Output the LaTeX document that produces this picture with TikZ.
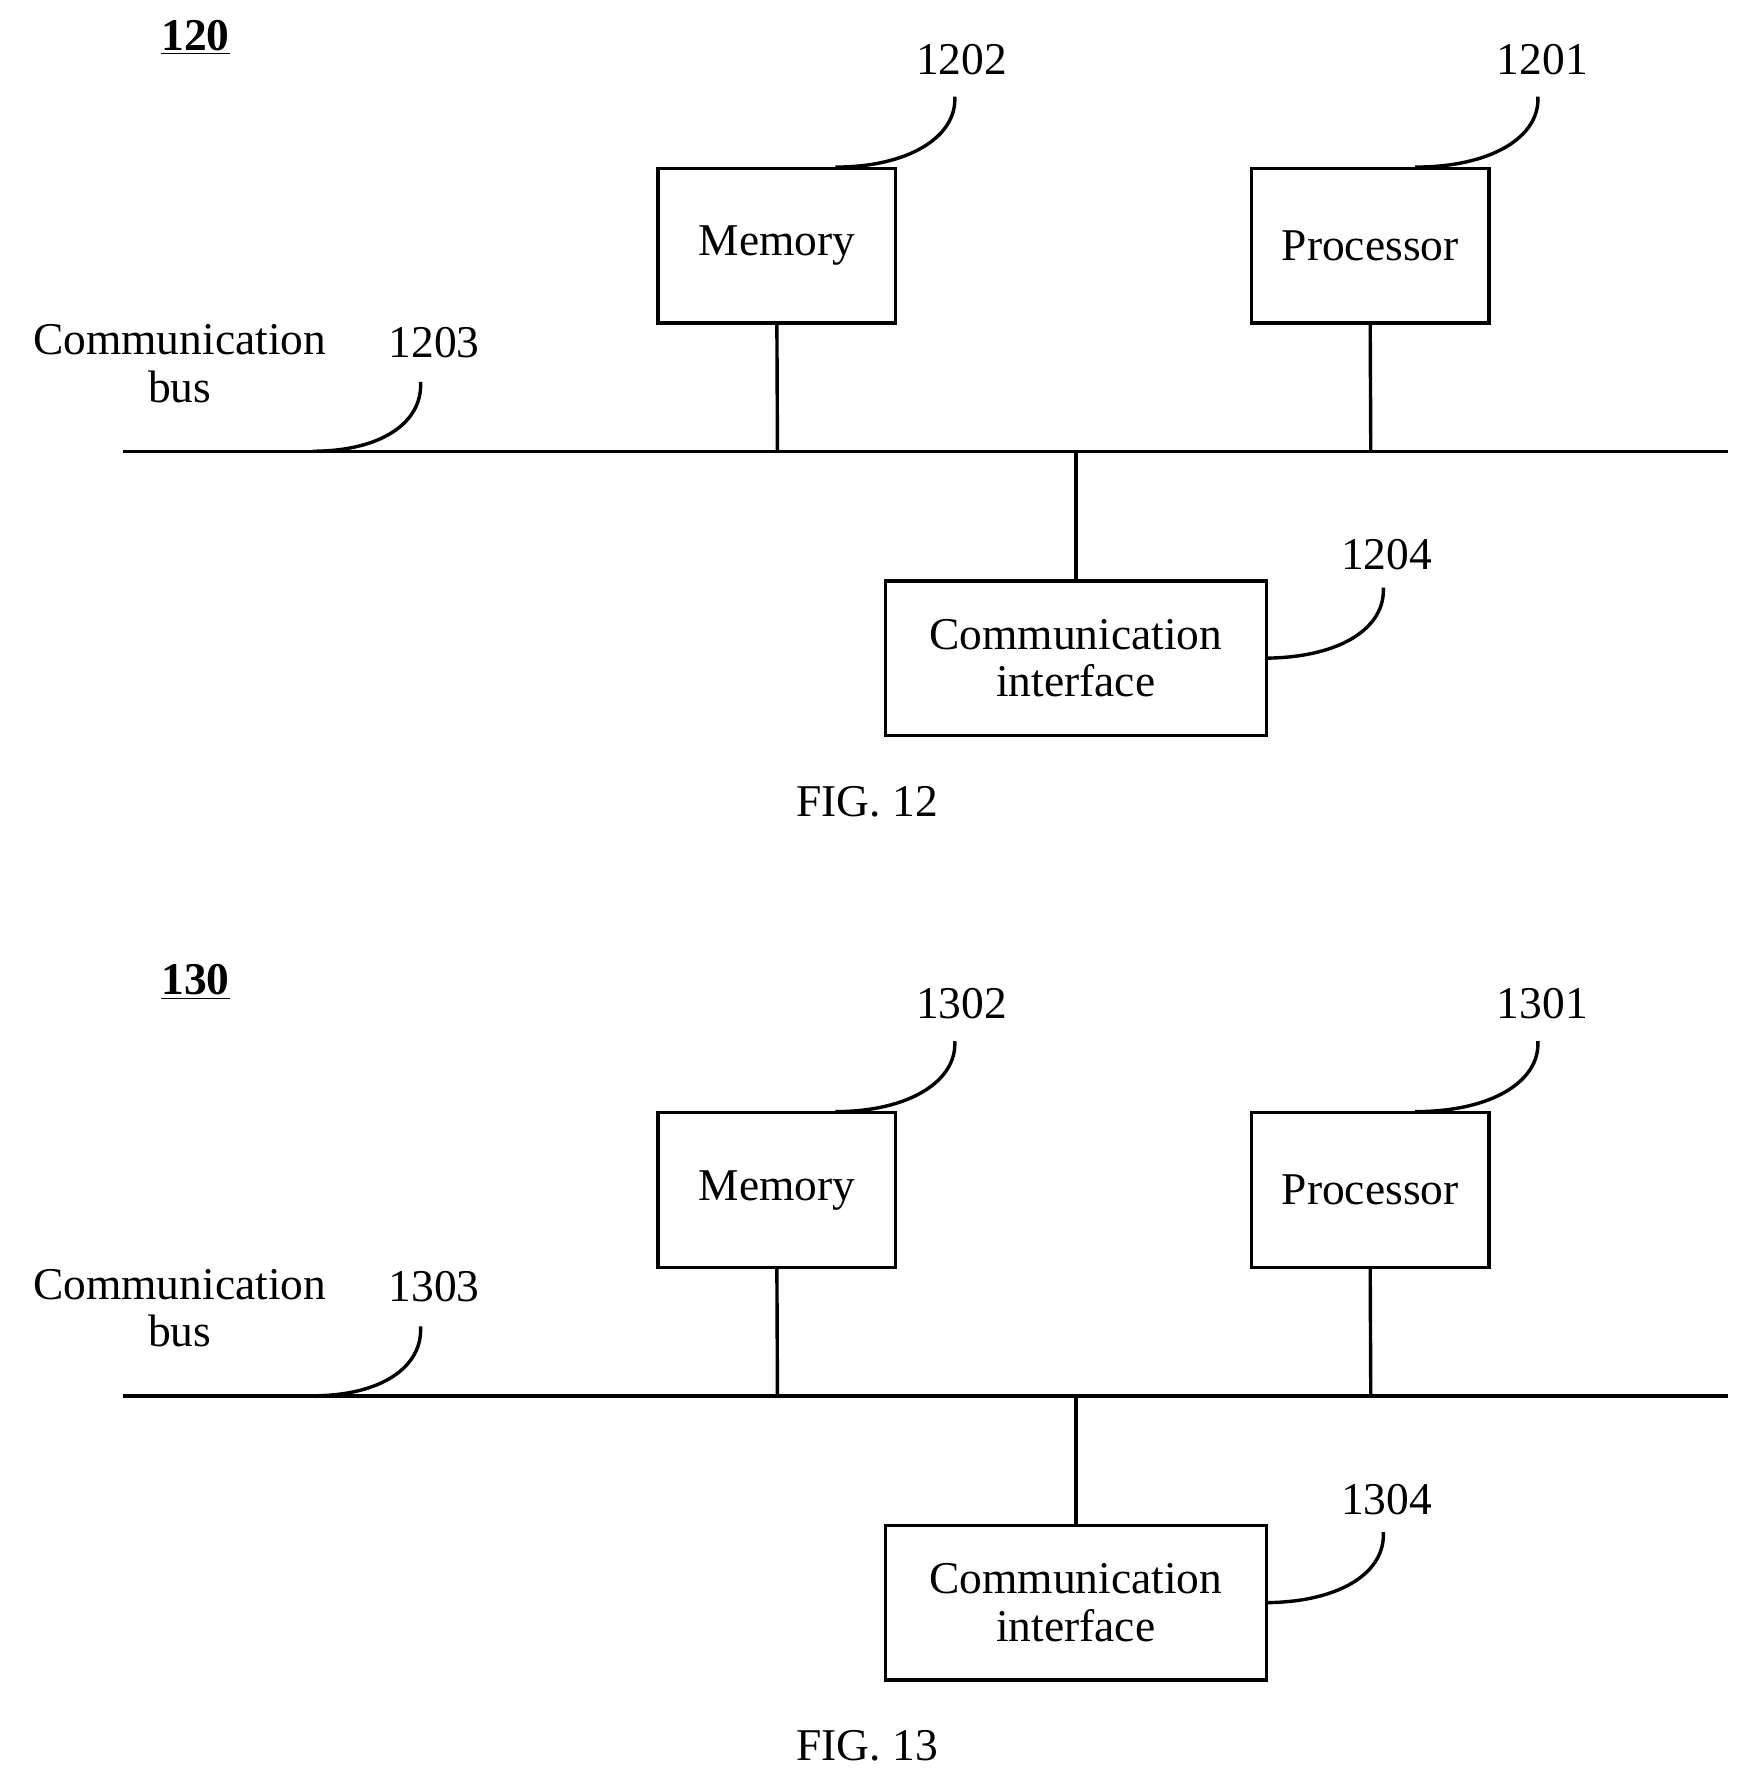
\documentclass[tikz,border=0pt]{standalone}
\usepackage{fontspec}
\setmainfont{Liberation Serif}
\begin{document}
\begin{tikzpicture}[x=0.5pt,y=-0.5pt,
  box/.style={draw,line width=1.5pt,inner sep=0pt,font=\fontsize{20}{24}\selectfont,align=center},
  lbl/.style={font=\fontsize{20}{24}\selectfont,inner sep=0pt},
  ln/.style={line width=1.5pt}]
\useasboundingbox (0,0) rectangle (1530,1559);
\foreach \f/\d/\t in {12/0/120,13/831/130}{
\begin{scope}[yshift=-\d*0.5pt]
\node[lbl,font=\fontsize{20}{24}\selectfont\bfseries] (t\f) at (172,33) {\underline{\t}};
\node[box,minimum width=209*0.5pt,minimum height=136*0.5pt] (m\f) at (683.5,216) {Memory};
\node[box,minimum width=209*0.5pt,minimum height=136*0.5pt] (p\f) at (1205.5,216) {Processor};
\node[box,minimum width=335*0.5pt,minimum height=136*0.5pt] (c\f) at (946.5,579) {Communication\\[-3pt]interface};
\coordinate (bl\f) at (108,397);
\coordinate (br\f) at (1520,397);
\draw[ln] (bl\f) -- (br\f);
\draw[ln] (m\f.south) -- (684,397);
\draw[ln] (p\f.south) -- (1206,397);
\draw[ln] (c\f.north) -- (946.5,397);
\node[lbl,align=center] (bus\f) at (158,320) {Communication\\[-3pt]bus};
\node[lbl] (n2\f) at (846,52) {\f02};
\node[lbl] (n1\f) at (1357,52) {\f01};
\node[lbl] (n3\f) at (382,301) {\f03};
\node[lbl] (n4\f) at (1220,488) {\f04};
\node[lbl] (fig\f) at (763,705) {FIG. \f};
\draw[ln] (840,85) .. controls (842,120) and (800,147) .. (735,147);
\draw[ln] (1353,85) .. controls (1355,120) and (1313,147) .. (1245,147);
\draw[ln] (370,336) .. controls (372,372) and (335,397) .. (275,397);
\draw[ln] (1217,517) .. controls (1219,552) and (1180,578) .. (c\f.east);
\end{scope}}
\end{tikzpicture}
\end{document}
